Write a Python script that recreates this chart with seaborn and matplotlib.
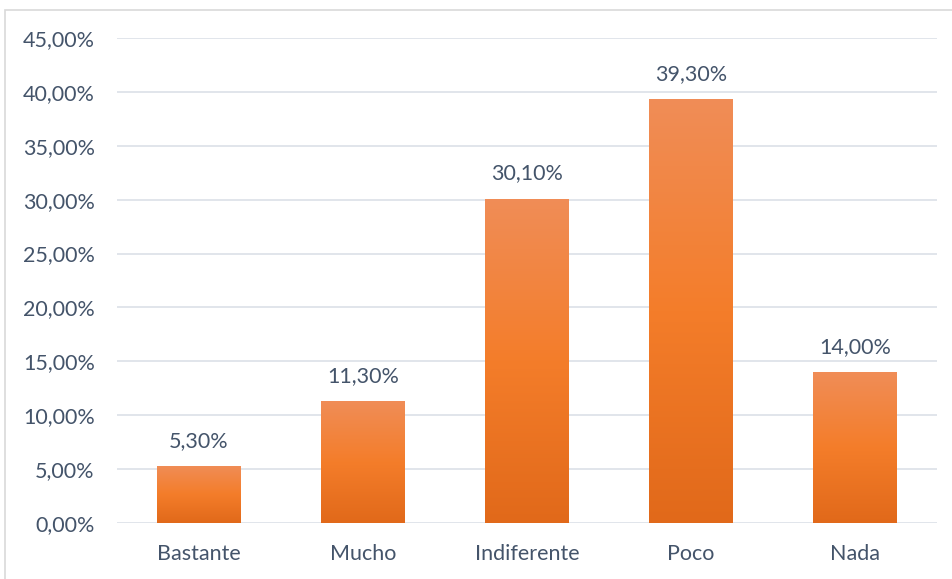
import matplotlib
matplotlib.use("Agg")
import matplotlib.pyplot as plt
import matplotlib.patches as mpatches
from matplotlib.colors import LinearSegmentedColormap
import numpy as np
import pandas as pd
import seaborn as sns

categories = ["Bastante", "Mucho", "Indiferente", "Poco", "Nada"]
values = [0.053, 0.113, 0.301, 0.393, 0.140]
yticks = [0.0, 0.05, 0.10, 0.15, 0.20, 0.25, 0.30, 0.35, 0.40, 0.45]

sns.set_theme(style="white")
plt.rcParams["font.family"] = ["Lato", "DejaVu Sans"]

text_color = "#44546A"
grid_color = "#D9DEE6"
fsize = 15.5

df = pd.DataFrame({"categoria": categories, "valor": values})

fig = plt.figure(figsize=(9.53, 5.79), dpi=100)
W, H = 953, 579
ax = fig.add_axes([117 / W, (H - 523) / H, (937 - 117) / W, (523 - 38) / H])

sns.barplot(data=df, x="categoria", y="valor", color="#F47D2A", width=0.51,
            ax=ax, zorder=2)

ax.set_ylim(0, 0.45)
ax.set_xlim(-0.5, len(categories) - 0.5)
ax.set_yticks(yticks)
ax.set_yticklabels([f"{t * 100:.2f}%".replace(".", ",") for t in yticks])
ax.set_xlabel("")
ax.set_ylabel("")

for s in ax.spines.values():
    s.set_visible(False)
ax.yaxis.grid(True, color=grid_color, linewidth=1.1, zorder=0)
ax.xaxis.grid(False)
ax.set_axisbelow(True)
ax.tick_params(axis="both", length=0, labelsize=fsize, labelcolor=text_color)
ax.tick_params(axis="y", pad=16)
ax.tick_params(axis="x", pad=15)

# vertical gradient fill for each bar
grad = LinearSegmentedColormap.from_list(
    "bar_grad", ["#E1691A", "#F47D2A", "#F08D57"])
gradient = np.linspace(0, 1, 256).reshape(-1, 1)
for patch in list(ax.patches):
    x0, y0 = patch.get_x(), patch.get_y()
    w, h = patch.get_width(), patch.get_height()
    img = ax.imshow(gradient, cmap=grad, origin="lower", aspect="auto",
                    extent=[x0, x0 + w, y0, y0 + h], zorder=3,
                    interpolation="bicubic")
    img.set_clip_path(patch)
    patch.set_facecolor("none")
    patch.set_edgecolor("none")

ax.set_xlim(-0.5, len(categories) - 0.5)
ax.set_ylim(0, 0.45)

for i, v in enumerate(values):
    ax.annotate(f"{v * 100:.2f}%".replace(".", ","), (i, v),
                xytext=(0, 11), textcoords="offset points",
                ha="center", va="bottom", fontsize=fsize, color=text_color)

# outer chart frame
fig.patches.append(mpatches.Rectangle(
    (5.5 / W, -0.01), 1.0, (H - 9.5) / H + 0.01, transform=fig.transFigure,
    fill=False, edgecolor="#D9D9D9", linewidth=1.2))

fig.savefig("out.png", dpi=100)
